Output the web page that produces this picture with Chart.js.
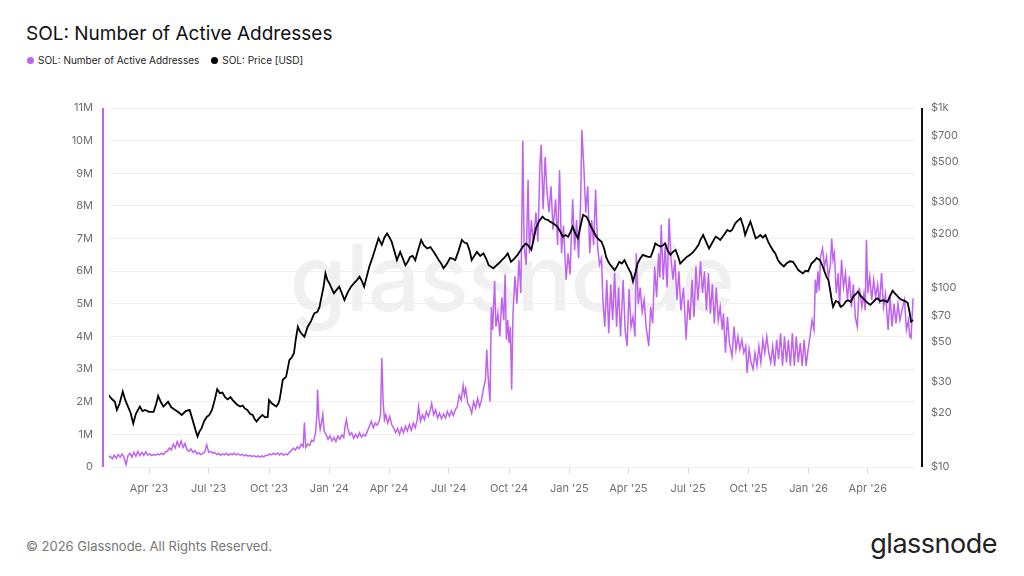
<!DOCTYPE html>
<html lang="en">
<head>
<meta charset="UTF-8">
<title>SOL: Number of Active Addresses</title>
<script src="https://cdn.jsdelivr.net/npm/chart.js"></script>
<style>
  body { margin: 0; background: #fff; font-family: Inter, "Noto Sans", sans-serif; }
  #wrap { position: relative; width: 1024px; height: 576px; overflow: hidden; }
  #chart { position: absolute; left: 0; top: 0; z-index: 1; }
  .title { position: absolute; left: 26px; top: 22px; font-size: 19px; color: #111; }
  .legend { position: absolute; left: 27px; top: 54px; font-size: 10px; color: #222; display: flex; gap: 12px; }
  .legend span.dot { display: inline-block; width: 7px; height: 7px; border-radius: 50%; margin-right: 4px; vertical-align: 0px; }
  .watermark { position: absolute; left: 0; width: 1024px; top: 222px; text-align: center; font-size: 92px; font-weight: 500; color: #f0f0f0; z-index: 0; letter-spacing: -1px; }
  .footer { position: absolute; left: 26px; top: 538px; font-size: 13px; color: #777; }
  .logo { position: absolute; right: 27px; top: 527px; font-size: 27px; color: #222; letter-spacing: -0.5px; }
</style>
</head>
<body>
<div id="wrap">
  <div class="watermark">glassnode</div>
  <canvas id="chart" width="1024" height="576"></canvas>
  <div class="title">SOL: Number of Active Addresses</div>
  <div class="legend">
    <div><span class="dot" style="background:#c062f0"></span>SOL: Number of Active Addresses</div>
    <div><span class="dot" style="background:#000"></span>SOL: Price [USD]</div>
  </div>
  <div class="footer">© 2026 Glassnode. All Rights Reserved.</div>
  <div class="logo">glassnode</div>
</div>

<script>
// x values are days counted from 1 Jan 2023
const quarterDays = [90, 181, 273, 365, 456, 547, 639, 731, 821, 912, 1004, 1096, 1186];
const quarterLabels = ["Apr '23", "Jul '23", "Oct '23", "Jan '24", "Apr '24", "Jul '24", "Oct '24",
                       "Jan '25", "Apr '25", "Jul '25", "Oct '25", "Jan '26", "Apr '26"];
const priceTicks = [10, 20, 30, 50, 70, 100, 200, 300, 500, 700, 1000];
const addrTicks = [0, 1, 2, 3, 4, 5, 6, 7, 8, 9, 10, 11];

// SOL price [USD], [day, price]
const solPrice = [
  [28,25.2],[33,24.0],[38,23.1],[41,20.8],[45,22.5],[50,26.3],[54,23.5],[58,21.7],[62,20.0],[66,17.5],
  [70,19.8],[76,21.7],[80,20.5],[84,20.8],[90,20.3],[97,20.3],[101,22.5],[104,24.9],[108,23.0],[112,21.7],
  [116,22.5],[119,23.1],[124,21.5],[130,20.8],[135,20.2],[140,19.5],[146,20.5],[152,20.8],[158,17.5],[161,16.0],
  [164,14.8],[167,15.8],[170,16.4],[174,18.0],[178,19.0],[182,19.5],[186,20.8],[190,23.5],[194,27.1],[198,25.8],
  [202,26.0],[206,24.5],[210,23.8],[214,24.5],[218,23.5],[224,22.3],[229,21.7],[233,22.0],[236,21.2],[240,20.8],
  [244,19.8],[248,19.5],[251,18.5],[254,17.9],[258,18.7],[263,19.5],[267,18.9],[271,19.0],[273,23.6],[278,22.5],
  [284,21.7],[287,22.5],[289,23.6],[292,27.5],[294,30.6],[299,31.8],[302,36],[304,39.4],[308,41],[311,43.0],
  [314,52],[317,60.5],[320,57],[322,55.6],[327,53.2],[332,60.5],[337,65],[342,71.8],[347,73.3],[350,78],
  [352,85.1],[356,100],[359,120],[362,110],[365,105.4],[369,98],[372,92.9],[376,97],[380,101],[384,93],
  [388,85.1],[393,94],[398,101],[403,106],[407,110],[411,115],[415,108],[418,101],[422,115],[426,131],
  [431,148],[436,169],[440,188],[445,173],[449,190],[453,200],[456,192],[460,180],[464,160],[468,142],
  [473,158],[477,145],[481,133],[485,140],[488,148],[492,150],[496,142],[500,160],[505,184],[509,172],
  [514,165],[519,168],[524,158],[528,150],[532,142],[536,135],[539,128],[544,135],[549,146],[553,145],
  [557,142],[562,160],[567,184],[571,178],[575,176],[579,160],[582,142],[586,150],[590,158],[595,150],
  [600,155],[604,145],[608,133],[612,130],[615,128],[619,132],[623,136],[628,142],[633,148],[637,155],
  [642,139],[647,145],[652,152],[656,160],[660,169],[665,176],[669,170],[673,162],[677,190],[680,214],
  [685,235],[690,248],[694,240],[698,238],[702,232],[706,228],[710,222],[713,218],[717,205],[721,192],
  [725,196],[729,192],[733,205],[736,218],[740,200],[744,188],[748,220],[752,254],[755,250],[757,248],
  [761,232],[764,218],[768,205],[772,192],[776,185],[780,180],[784,165],[787,148],[790,140],[792,136],
  [796,130],[800,125],[804,132],[807,139],[811,136],[815,142],[820,130],[825,120],[828,108],[832,122],
  [835,136],[839,145],[843,152],[847,150],[851,148],[855,148],[859,162],[862,176],[866,172],[870,169],
  [874,172],[877,176],[881,160],[885,152],[889,158],[893,162],[897,148],[900,136],[905,142],[910,148],
  [915,152],[920,158],[924,165],[928,173],[931,185],[935,196],[940,178],[944,165],[949,178],[954,192],
  [958,188],[961,184],[966,195],[972,209],[976,205],[979,209],[984,228],[988,236],[992,243],[996,220],
  [999,196],[1003,215],[1007,233],[1011,210],[1015,188],[1019,192],[1022,196],[1026,190],[1030,196],[1034,180],
  [1038,169],[1042,160],[1045,155],[1049,142],[1053,136],[1058,131],[1062,136],[1067,140],[1072,139],[1076,132],
  [1080,125],[1084,122],[1087,120],[1091,124],[1095,123],[1100,136],[1104,140],[1108,146],[1113,142],[1117,132],
  [1120,123],[1123,115],[1126,110],[1129,95],[1131,85],[1133,78],[1137,84],[1141,83],[1145,78],[1149,80],
  [1153,84],[1156,85],[1160,83],[1164,89],[1168,92],[1171,95],[1175,90],[1179,87],[1183,84],[1186,82],
  [1190,80],[1194,83],[1198,86],[1201,87],[1205,84],[1209,85],[1213,84],[1216,83],[1220,90],[1224,96],
  [1228,92],[1232,89],[1236,86],[1239,85],[1243,84],[1247,82],[1250,72],[1252,64.5],[1255,66]
];

// active addresses in millions, [day, value]
const activeAddresses = [
  [28,0.28],[31,0.33],[34,0.25],[37,0.36],[40,0.27],[43,0.38],[46,0.30],[49,0.40],[52,0.29],[55,0.07],
  [58,0.35],[61,0.42],[64,0.30],[67,0.45],[70,0.33],[73,0.48],[76,0.35],[79,0.44],[82,0.36],[85,0.47],
  [88,0.37],[91,0.40],[94,0.35],[97,0.38],[100,0.36],[103,0.40],[106,0.37],[109,0.42],[112,0.38],[115,0.46],
  [118,0.48],[121,0.58],[124,0.52],[127,0.70],[130,0.58],[133,0.78],[136,0.62],[139,0.80],[142,0.60],[145,0.72],
  [148,0.52],[151,0.48],[154,0.55],[157,0.45],[160,0.50],[163,0.40],[166,0.44],[169,0.38],[172,0.42],[175,0.46],
  [178,0.68],[181,0.45],[184,0.48],[187,0.42],[190,0.45],[193,0.38],[196,0.42],[199,0.36],[202,0.40],[205,0.37],
  [208,0.42],[211,0.36],[214,0.40],[217,0.38],[220,0.42],[223,0.37],[226,0.40],[229,0.36],[232,0.39],[235,0.34],
  [238,0.37],[241,0.33],[244,0.36],[247,0.32],[250,0.35],[253,0.31],[256,0.34],[259,0.30],[262,0.34],[265,0.31],
  [268,0.36],[271,0.35],[274,0.40],[277,0.37],[280,0.42],[283,0.38],[286,0.43],[289,0.37],[292,0.42],[295,0.36],
  [298,0.40],[301,0.37],[304,0.45],[307,0.50],[310,0.58],[313,0.52],[316,0.62],[319,0.56],[322,0.70],[325,0.62],
  [327,1.36],[329,0.60],[332,0.70],[335,0.66],[338,0.82],[341,0.78],[344,1.05],[346,1.60],[347,2.37],[349,1.50],
  [351,1.15],[353,1.35],[355,1.62],[357,1.10],[360,1.00],[363,0.85],[366,0.95],[369,0.80],[372,0.90],[375,0.78],
  [378,0.95],[381,0.85],[384,0.98],[387,0.90],[389,1.25],[391,1.45],[393,1.20],[396,0.98],[399,1.05],[402,0.88],
  [405,1.00],[408,0.90],[411,1.05],[414,0.92],[417,1.00],[420,0.95],[423,1.10],[426,1.25],[429,1.40],[432,1.20],
  [435,1.35],[438,1.28],[441,1.40],[443,1.60],[445,3.34],[447,2.00],[449,1.45],[451,1.60],[454,1.35],[457,1.55],
  [460,1.30],[463,1.20],[466,1.05],[469,1.18],[472,1.00],[475,1.20],[478,1.05],[481,1.25],[484,1.10],[487,1.30],
  [490,1.12],[493,1.35],[496,1.20],[499,1.45],[501,1.85],[504,1.40],[507,1.60],[510,1.45],[513,1.70],[516,1.55],
  [519,1.75],[521,1.95],[524,1.60],[527,1.75],[530,1.50],[533,1.65],[536,1.48],[539,1.62],[542,1.50],[545,1.70],
  [548,1.55],[551,1.72],[554,1.58],[557,1.75],[560,1.85],[563,2.20],[566,2.05],[569,2.50],[571,2.20],[573,2.40],
  [576,1.95],[579,1.85],[582,1.65],[585,2.00],[588,1.80],[591,2.10],[594,1.85],[597,2.05],[600,2.40],[603,2.67],
  [605,3.60],[607,2.80],[610,2.00],[612,4.90],[614,4.20],[617,5.70],[619,4.30],[622,4.70],[625,4.00],[628,5.20],
  [631,4.50],[633,5.90],[635,3.90],[637,4.50],[639,3.80],[641,4.30],[643,2.37],[645,4.70],[648,5.84],[651,5.00],
  [654,6.35],[657,5.33],[660,10.0],[662,6.75],[665,6.20],[668,8.80],[670,6.55],[673,7.57],[676,6.85],[680,7.80],
  [683,6.90],[686,9.20],[688,9.87],[691,7.90],[694,9.50],[697,8.40],[700,7.80],[703,8.60],[706,7.27],[710,8.20],
  [713,6.80],[716,9.10],[719,6.55],[722,7.40],[726,5.74],[729,6.55],[732,5.90],[736,8.20],[739,6.65],[742,7.57],
  [745,6.40],[748,8.00],[750,10.33],[753,9.20],[756,7.80],[759,8.60],[762,6.55],[765,7.57],[768,6.80],[771,8.50],
  [774,6.75],[777,6.20],[780,6.40],[782,5.12],[785,4.30],[788,5.74],[791,4.10],[794,5.60],[797,4.50],[800,5.94],
  [803,4.30],[806,5.50],[809,4.00],[813,5.74],[816,4.20],[819,3.70],[822,5.45],[825,4.30],[828,4.60],[831,4.00],
  [833,6.55],[836,5.00],[839,5.50],[842,4.75],[845,5.12],[848,4.30],[852,3.70],[855,4.90],[858,4.40],[861,6.14],
  [864,5.20],[867,6.55],[869,5.80],[871,7.42],[874,5.74],[877,6.75],[880,5.50],[883,7.62],[886,6.35],[889,5.74],
  [892,6.35],[895,5.12],[898,6.00],[901,4.80],[905,5.50],[909,3.90],[912,5.12],[915,4.50],[918,5.74],[921,4.60],
  [924,6.14],[927,5.10],[931,6.30],[934,5.33],[937,6.00],[940,4.80],[943,5.94],[946,4.70],[949,5.60],[952,4.40],
  [955,5.50],[958,4.50],[961,4.90],[964,4.20],[966,4.70],[969,3.50],[972,4.60],[975,3.80],[979,3.39],[982,4.30],
  [985,3.60],[988,4.00],[991,3.60],[994,3.90],[997,3.50],[1000,3.70],[1002,2.88],[1005,3.60],[1008,3.20],[1011,3.00],
  [1014,3.50],[1017,3.10],[1020,3.70],[1023,3.20],[1026,3.90],[1029,3.50],[1032,4.00],[1035,3.50],[1038,3.20],[1041,3.70],
  [1044,3.10],[1047,3.90],[1050,3.30],[1053,4.10],[1056,3.10],[1059,4.00],[1062,3.20],[1065,3.90],[1068,3.10],[1071,4.10],
  [1074,3.10],[1077,4.00],[1080,3.20],[1083,3.80],[1086,3.10],[1089,3.90],[1092,3.10],[1095,3.60],[1098,4.00],[1101,4.50],
  [1104,4.20],[1106,5.74],[1108,5.33],[1110,6.00],[1112,5.40],[1114,6.45],[1117,6.70],[1120,6.14],[1123,6.45],[1126,5.80],
  [1129,6.20],[1131,7.00],[1133,6.35],[1135,6.55],[1138,5.33],[1141,5.94],[1143,4.90],[1146,6.35],[1149,5.50],[1152,5.94],
  [1155,5.12],[1158,5.84],[1161,4.90],[1164,5.60],[1167,4.60],[1170,4.30],[1173,5.50],[1177,4.90],[1180,5.30],[1182,4.80],
  [1184,6.96],[1186,5.33],[1189,5.84],[1192,5.12],[1195,5.74],[1198,5.20],[1201,5.60],[1204,5.00],[1207,5.94],[1210,4.90],
  [1213,5.30],[1217,4.20],[1220,5.23],[1223,4.30],[1226,5.00],[1229,4.40],[1232,5.00],[1235,4.50],[1238,4.80],[1242,5.12],
  [1245,4.20],[1248,4.50],[1250,4.00],[1252,3.95],[1255,5.17]
];

const purple = '#c062f0';
const tickFont = { family: 'Inter, "Noto Sans", sans-serif', size: 11 };
const tickColor = '#6e6e6e';

// vertical axis lines sit a few px outside the grid, like the original
const axisLines = {
  id: 'axisLines',
  afterDraw(chart) {
    const { ctx, chartArea: a } = chart;
    ctx.save();
    ctx.lineWidth = 2;
    ctx.strokeStyle = purple;
    ctx.beginPath(); ctx.moveTo(a.left - 6, a.top); ctx.lineTo(a.left - 6, a.bottom); ctx.stroke();
    ctx.strokeStyle = '#111';
    ctx.beginPath(); ctx.moveTo(a.right + 7, a.top); ctx.lineTo(a.right + 7, a.bottom); ctx.stroke();
    ctx.restore();
  }
};

new Chart(document.getElementById('chart'), {
  type: 'line',
  data: {
    datasets: [
      {
        label: 'SOL: Price [USD]',
        data: solPrice.map(p => ({ x: p[0], y: p[1] })),
        yAxisID: 'yPrice',
        borderColor: '#000',
        borderWidth: 1.8,
        pointRadius: 0,
        order: 0
      },
      {
        label: 'SOL: Number of Active Addresses',
        data: activeAddresses.map(p => ({ x: p[0], y: p[1] })),
        yAxisID: 'yAddr',
        borderColor: purple,
        borderWidth: 1.5,
        pointRadius: 0,
        order: 1
      }
    ]
  },
  options: {
    responsive: false,
    animation: false,
    devicePixelRatio: 1,
    layout: { padding: { top: 108, bottom: 69, left: 0, right: 0 } },
    plugins: { legend: { display: false }, tooltip: { enabled: false } },
    scales: {
      x: {
        type: 'linear',
        min: 29,
        max: 1258,
        afterBuildTicks: s => { s.ticks = quarterDays.map(v => ({ value: v })); },
        afterFit: s => { s.height = 40; },
        ticks: {
          autoSkip: false, maxRotation: 0, padding: 8,
          font: tickFont, color: tickColor,
          callback: v => quarterLabels[quarterDays.indexOf(v)]
        },
        grid: { drawOnChartArea: false, tickLength: 7, color: '#dcdcdc' },
        border: { display: false }
      },
      yAddr: {
        type: 'linear',
        position: 'left',
        min: 0,
        max: 11,
        afterBuildTicks: s => { s.ticks = addrTicks.map(v => ({ value: v })); },
        afterFit: s => { s.width = 109; },
        ticks: {
          padding: 16, font: tickFont, color: tickColor,
          callback: v => v === 0 ? '0' : v + 'M'
        },
        grid: { color: '#efefef', drawTicks: false },
        border: { display: false }
      },
      yPrice: {
        type: 'logarithmic',
        position: 'right',
        min: 10,
        max: 1000,
        afterBuildTicks: s => { s.ticks = priceTicks.map(v => ({ value: v })); },
        afterFit: s => { s.width = 109; },
        ticks: {
          padding: 16, font: tickFont, color: tickColor,
          callback: v => v >= 1000 ? '$1k' : '$' + v
        },
        grid: { drawOnChartArea: false, drawTicks: false },
        border: { display: false }
      }
    }
  },
  plugins: [axisLines]
});
</script>
</body>
</html>
